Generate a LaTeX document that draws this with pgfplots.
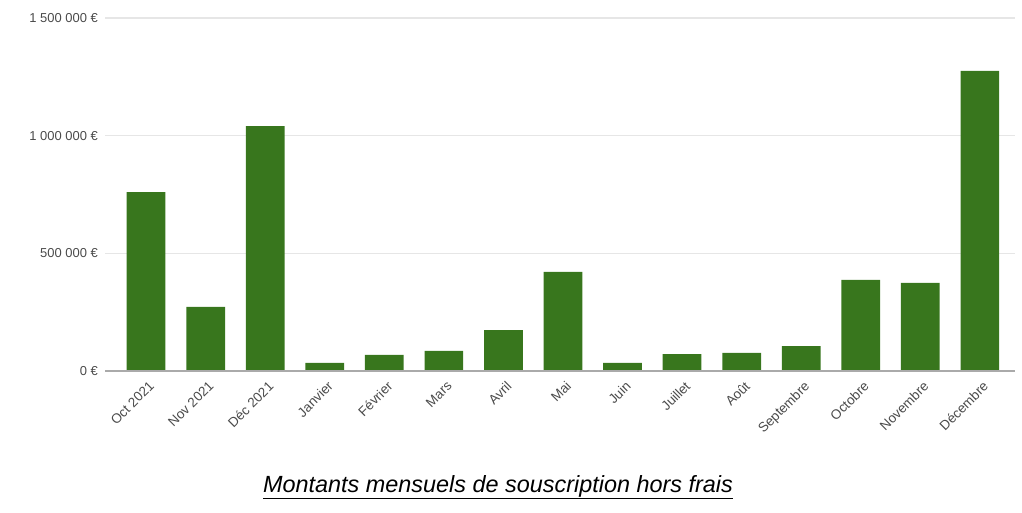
\documentclass[border=0pt]{standalone}
\usepackage{fontspec}
\setmainfont{Liberation Sans}
\usepackage{pgfplots}
\pgfplotsset{compat=1.18}
\definecolor{barg}{HTML}{38761D}
\definecolor{gridc}{HTML}{E6E6E6}
\definecolor{basec}{HTML}{AAAAAA}
\definecolor{txt}{HTML}{4A4A4A}
\begin{document}
\begin{tikzpicture}[x=1bp,y=1bp]
\path (0,0) rectangle (1022,513);
\begin{axis}[
  at={(105bp,142bp)}, anchor=south west,
  scale only axis, width=910bp, height=353bp,
  xmin=-0.69, xmax=14.59, ymin=0, ymax=1500000,
  axis line style={draw=none}, tick style={draw=none},
  ymajorgrids, major grid style={gridc, line width=1.2bp},
  ytick={0,500000,1000000,1500000},
  yticklabels={0 €, 500 000 €, 1 000 000 €, 1 500 000 €},
  scaled y ticks=false,
  yticklabel style={font=\fontsize{13}{15}\selectfont, text=txt, inner sep=2bp, xshift=-5bp},
  xtick={0,...,14},
  xticklabels={Oct 2021, Nov 2021, Déc 2021, Janvier, Février, Mars, Avril, Mai, Juin, Juillet, Août, Septembre, Octobre, Novembre, Décembre},
  x tick label style={rotate=45, anchor=north east, font=\fontsize{13.5}{15}\selectfont, text=txt, inner sep=2bp, yshift=-3bp},
  ybar, bar width=0.65,
  clip=false,
]
\addplot[fill=barg, draw=none] coordinates {
(0,760000) (1,272000) (2,1041000) (3,34000) (4,68000) (5,85000) (6,174000) (7,421000)
(8,34000) (9,72000) (10,77000) (11,106000) (12,387000) (13,374000) (14,1275000)};
\draw[basec, line width=1.8bp] (axis cs:-0.69,0) -- (axis cs:14.59,0);
\end{axis}
\node[font=\fontsize{23.5}{27}\selectfont\itshape] at (498,26) {\underline{Montants mensuels de souscription hors frais}};
\end{tikzpicture}
\end{document}
